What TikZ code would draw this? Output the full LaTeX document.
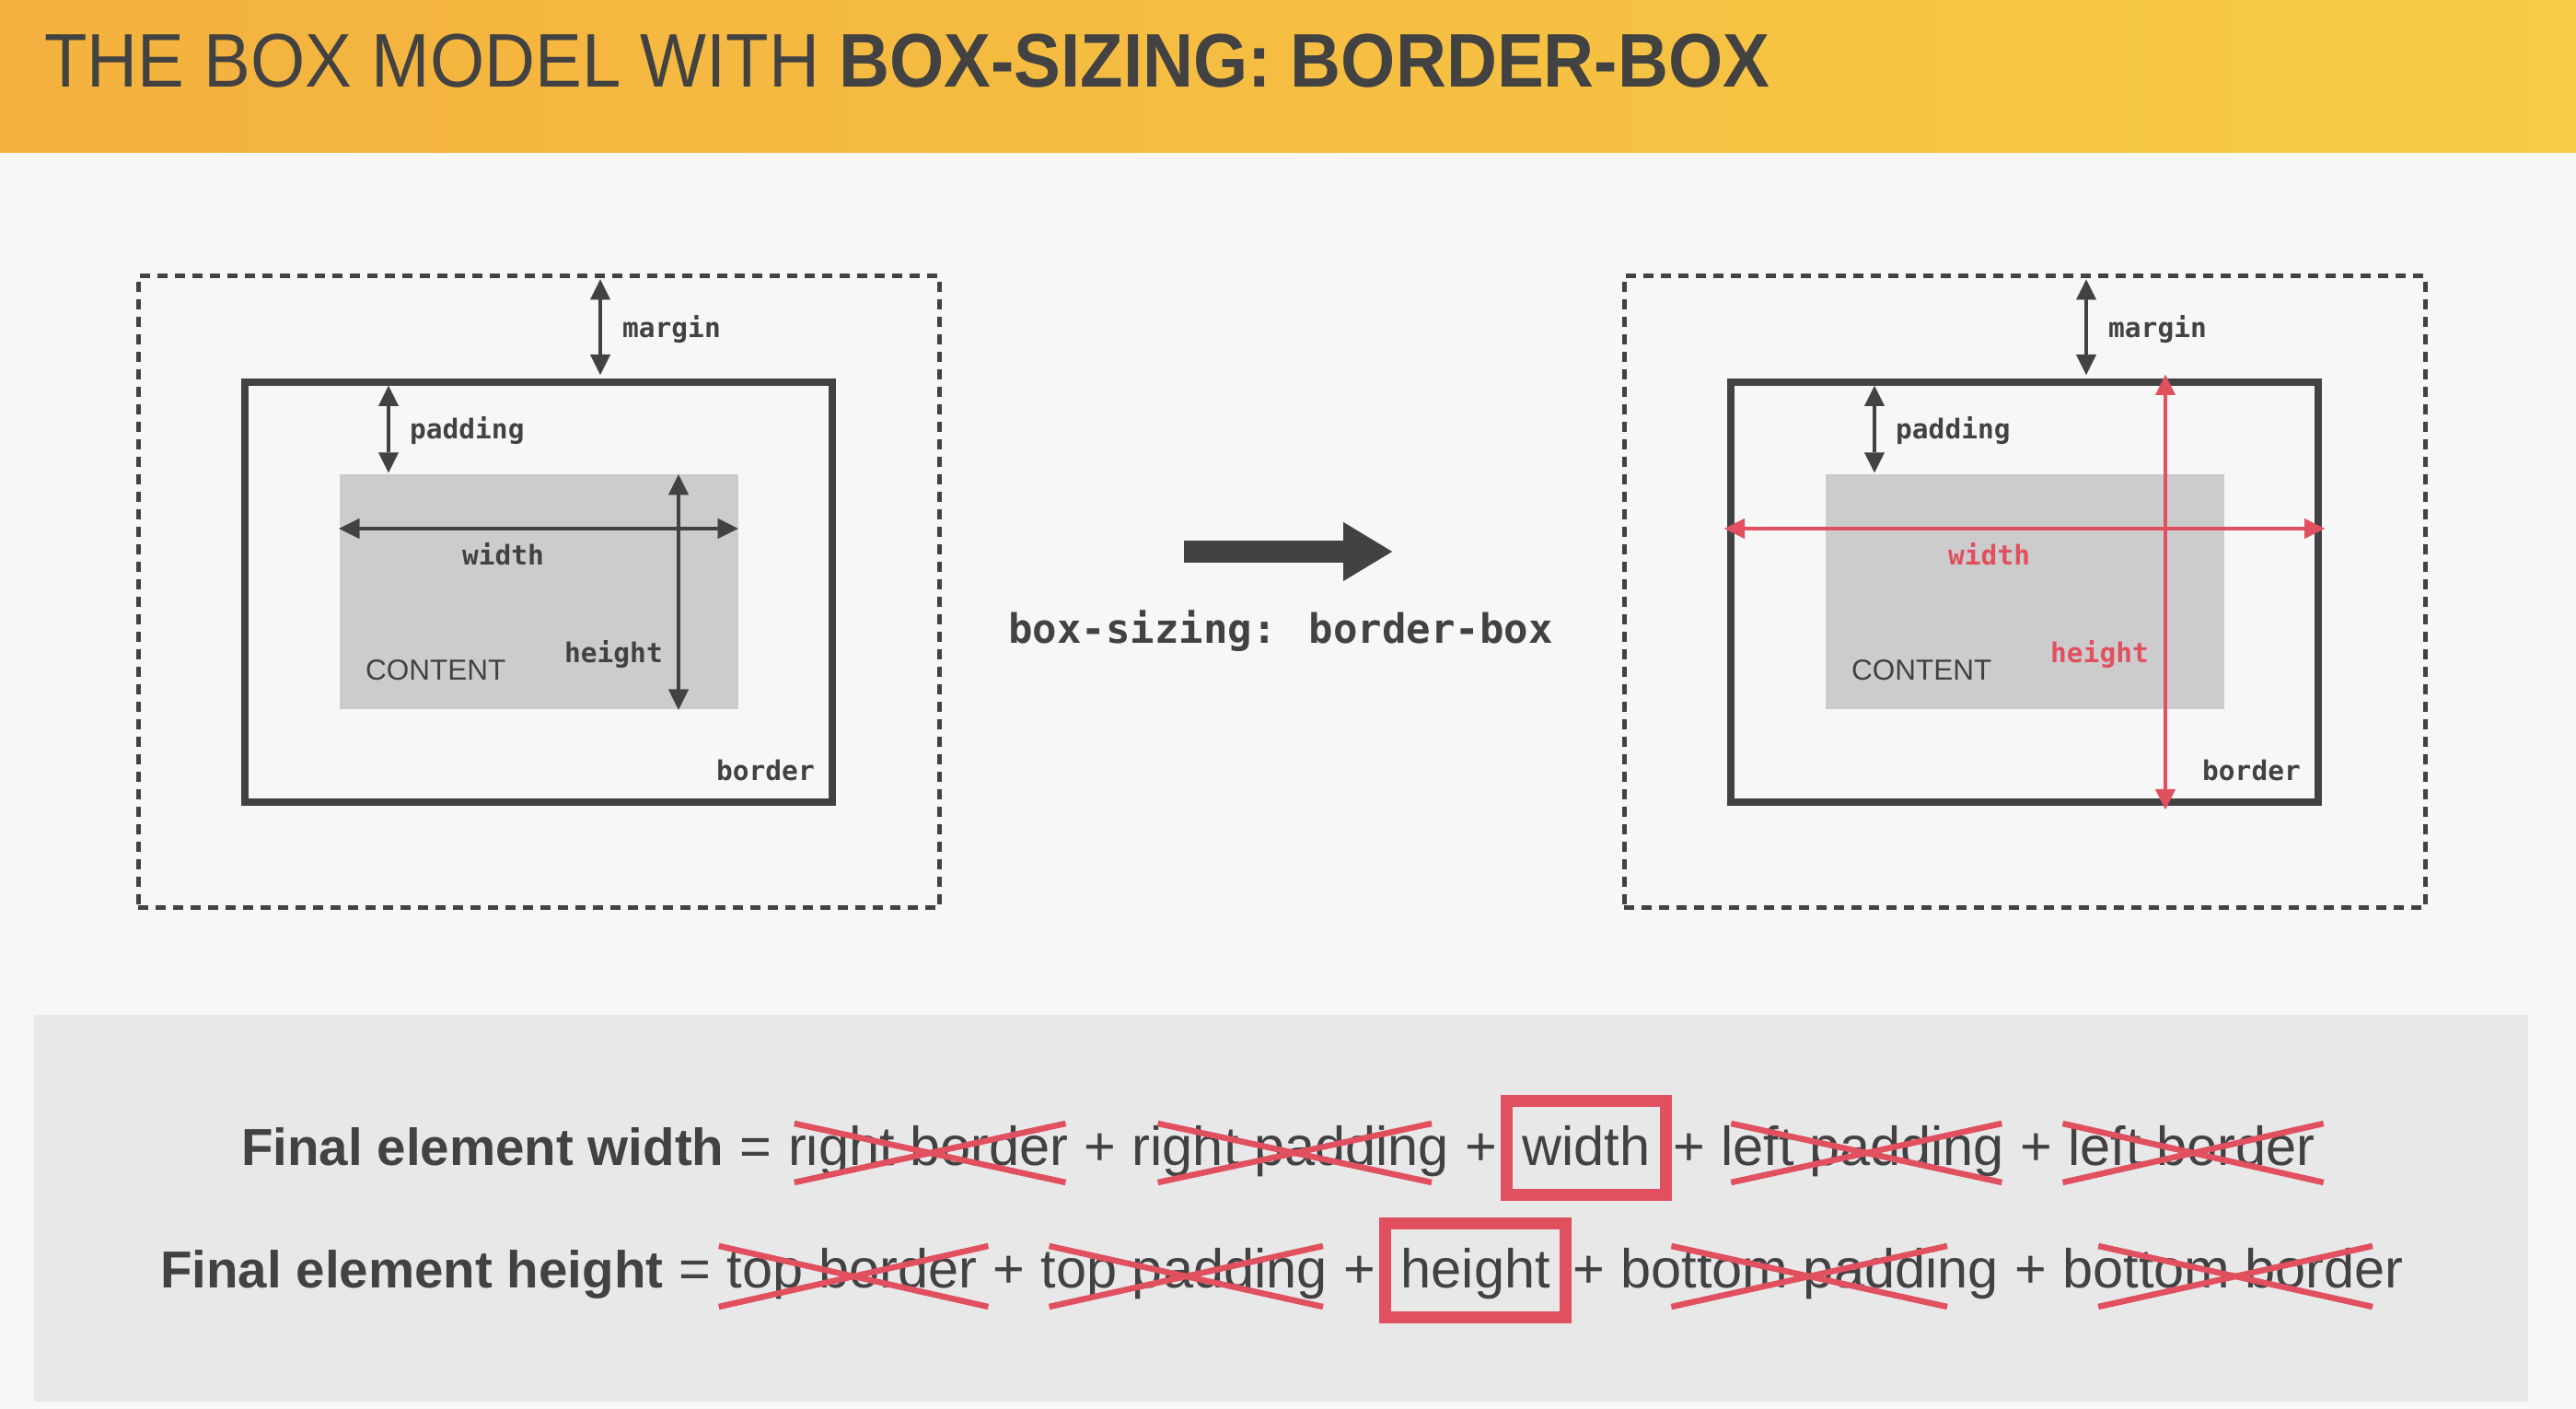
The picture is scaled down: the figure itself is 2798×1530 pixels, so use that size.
\documentclass[tikz,border=0pt]{standalone}
\usepackage{graphicx}
\usepackage{fontspec}
\setmainfont{Liberation Sans}
\newfontfamily\labelfont{DejaVu Sans Mono}
\usepackage{tikz}
\usetikzlibrary{arrows.meta,positioning,calc}

\definecolor{ink}{HTML}{424242}
\definecolor{redline}{HTML}{E0505F}
\definecolor{contentgray}{HTML}{CCCCCC}
\definecolor{panelgray}{HTML}{E8E8E8}
\definecolor{pagebg}{HTML}{F7F7F7}
\definecolor{headleft}{HTML}{F4B13F}
\definecolor{headright}{HTML}{F7CB45}

\tikzset{
  marginbox/.style={draw=ink, dash pattern=on 11pt off 8pt, line width=5pt,
    minimum width=870pt, minimum height=686pt, inner sep=0pt},
  borderbox/.style={draw=ink, line width=8pt,
    minimum width=638pt, minimum height=456pt, inner sep=0pt},
  contentbox/.style={fill=contentgray, minimum width=433pt, minimum height=255pt, inner sep=0pt},
  lbl/.style={font=\labelfont\bfseries\fontsize{29.5}{30}\selectfont, text=ink,
    inner sep=0pt, anchor=base west},
  contentlbl/.style={font=\fontsize{31.5}{32}\selectfont, text=ink, inner sep=0pt, anchor=base west},
  dim/.style={draw=ink, line width=4pt,
    {Triangle[length=22pt,width=22pt,line width=0.1pt]}-{Triangle[length=22pt,width=22pt,line width=0.1pt]}},
  reddim/.style={dim, draw=redline},
  bigarrow/.style={draw=ink, line width=24pt, -{Triangle[length=53pt,width=64pt,line width=0.1pt]}},
  term/.style={font=\fontsize{59.5}{60}\selectfont, text=ink, inner sep=0pt},
  boldterm/.style={term, font=\bfseries\fontsize{56.5}{57}\selectfont},
  keepbox/.style={draw=redline, line width=13pt, inner xsep=17pt, inner ysep=28pt,
    text height=42pt, text depth=4pt},
  strike/.style={draw=redline, line width=6.5pt}
}

\begin{document}
\begin{tikzpicture}[x=1pt,y=1pt]
\useasboundingbox (0,0) rectangle (2798,1530);
\fill[pagebg] (0,0) rectangle (2798,1530);
\shade[left color=headleft, right color=headright] (0,1364) rectangle (2798,1530);

\node[anchor=base west, text=ink, inner sep=0pt, font=\fontsize{82.5}{83}\selectfont] (title) at (48,1435)
  {\scalebox{0.923}[1]{THE BOX MODEL WITH \textbf{BOX-SIZING: BORDER-BOX}}};

% left: content-box
\node[marginbox]  (mL) at (585,887) {};
\node[borderbox]  (bL) at (mL.center) {};
\node[contentbox] (cL) at (mL.center) {};

\draw[dim] ([xshift=67pt,yshift=-6pt]mL.north) -- ([xshift=67pt,yshift=4pt]bL.north);
\draw[dim] ([xshift=-163pt,yshift=-8pt]bL.north) -- ([xshift=-163pt,yshift=2pt]cL.north);
\draw[dim] ([yshift=69pt]cL.west) -- ([yshift=69pt]cL.east);
\draw[dim] ([xshift=152pt]cL.north) -- ([xshift=152pt]cL.south);

\node[lbl] (marginL)  at ($(mL.center)+(91,276)$)    {margin};
\node[lbl] (paddingL) at ($(mL.center)+(-140,166.5)$) {padding};
\node[lbl] (widthL)   at ($(mL.center)+(-83,29)$)    {width};
\node[lbl] (heightL)  at ($(mL.center)+(28,-77)$)    {height};
\node[contentlbl] (contentL) at ($(mL.center)+(-188,-96)$) {CONTENT};
\node[lbl] (borderL)  at ($(mL.center)+(193,-205)$)  {border};

% middle
\coordinate (arrS) at (1286,931);
\coordinate (arrE) at (1512,931);
\draw[bigarrow] (arrS) -- (arrE);
\node[font=\labelfont\bfseries\fontsize{44}{45}\selectfont, text=ink, inner sep=0pt, anchor=base] (rule)
  at (1391,831) {box-sizing: border-box};

% right: border-box
\node[marginbox]  (mR) at (2199,887) {};
\node[borderbox]  (bR) at (mR.center) {};
\node[contentbox] (cR) at (mR.center) {};

\draw[dim] ([xshift=67pt,yshift=-6pt]mR.north) -- ([xshift=67pt,yshift=4pt]bR.north);
\draw[dim] ([xshift=-163pt,yshift=-8pt]bR.north) -- ([xshift=-163pt,yshift=2pt]cR.north);
\draw[reddim] ([xshift=-3pt,yshift=69pt]bR.west) -- ([xshift=3pt,yshift=69pt]bR.east);
\draw[reddim] ([xshift=153pt,yshift=4pt]bR.north) -- ([xshift=153pt,yshift=-4pt]bR.south);

\node[lbl] (marginR)  at ($(mR.center)+(91,276)$)    {margin};
\node[lbl] (paddingR) at ($(mR.center)+(-140,166.5)$) {padding};
\node[lbl, text=redline] (widthR)  at ($(mR.center)+(-83,29)$) {width};
\node[lbl, text=redline] (heightR) at ($(mR.center)+(28,-77)$) {height};
\node[contentlbl] (contentR) at ($(mR.center)+(-188,-96)$) {CONTENT};
\node[lbl] (borderR)  at ($(mR.center)+(193,-205)$)  {border};

% formulas
\node[fill=panelgray, minimum width=2709pt, minimum height=420pt, inner sep=0pt] (panel) at (1391.5,218) {};

\node[boldterm, anchor=base west] (fw) at (262,264) {Final element width};
\node[term, base right=17pt of fw]  (eq1) {=};
\node[term, base right=17pt of eq1] (rb)  {right border};
\node[term, base right=17pt of rb]  (p1)  {+};
\node[term, base right=17pt of p1]  (rp)  {right padding};
\node[term, base right=17pt of rp]  (p2)  {+};
\node[term, keepbox, base right=4pt of p2] (w) {width};
\node[term, base right=1pt of w]    (p3)  {+};
\node[term, base right=17pt of p3]  (lp)  {left padding};
\node[term, base right=17pt of lp]  (p4)  {+};
\node[term, base right=17pt of p4]  (lb)  {left border};

\node[boldterm, anchor=base west] (fh) at (174,131) {Final element height};
\node[term, base right=17pt of fh]  (eq2) {=};
\node[term, base right=17pt of eq2] (tb)  {top border};
\node[term, base right=17pt of tb]  (q1)  {+};
\node[term, base right=17pt of q1]  (tp)  {top padding};
\node[term, base right=17pt of tp]  (q2)  {+};
\node[term, keepbox, base right=4pt of q2] (h) {height};
\node[term, base right=1pt of h]    (q3)  {+};
\node[term, base right=17pt of q3]  (bp)  {bottom padding};
\node[term, base right=17pt of bp]  (q4)  {+};
\node[term, base right=17pt of q4]  (bb)  {bottom border};

\draw[strike] ($(rb.base west)+(7,46)$) -- ($(rb.base east)+(-3,-18)$);
\draw[strike] ($(rb.base west)+(7,-18)$) -- ($(rb.base east)+(-3,46)$);
\draw[strike] ($(rp.base west)+(28,46)$) -- ($(rp.base east)+(-19,-18)$);
\draw[strike] ($(rp.base west)+(28,-18)$) -- ($(rp.base east)+(-19,46)$);
\draw[strike] ($(lp.base west)+(11,46)$) -- ($(lp.base east)+(-3,-18)$);
\draw[strike] ($(lp.base west)+(11,-18)$) -- ($(lp.base east)+(-3,46)$);
\draw[strike] ($(lb.base west)+(-6,46)$) -- ($(lb.base east)+(9,-18)$);
\draw[strike] ($(lb.base west)+(-6,-18)$) -- ($(lb.base east)+(9,46)$);

\draw[strike] ($(tb.base west)+(-9,46)$) -- ($(tb.base east)+(12,-20)$);
\draw[strike] ($(tb.base west)+(-9,-20)$) -- ($(tb.base east)+(12,46)$);
\draw[strike] ($(tp.base west)+(9,46)$) -- ($(tp.base east)+(-5,-20)$);
\draw[strike] ($(tp.base west)+(9,-20)$) -- ($(tp.base east)+(-5,46)$);
\draw[strike] ($(bp.base west)+(55,46)$) -- ($(bp.base east)+(-56,-20)$);
\draw[strike] ($(bp.base west)+(55,-20)$) -- ($(bp.base east)+(-56,46)$);
\draw[strike] ($(bb.base west)+(39,46)$) -- ($(bb.base east)+(-34,-20)$);
\draw[strike] ($(bb.base west)+(39,-20)$) -- ($(bb.base east)+(-34,46)$);
\end{tikzpicture}
\end{document}
